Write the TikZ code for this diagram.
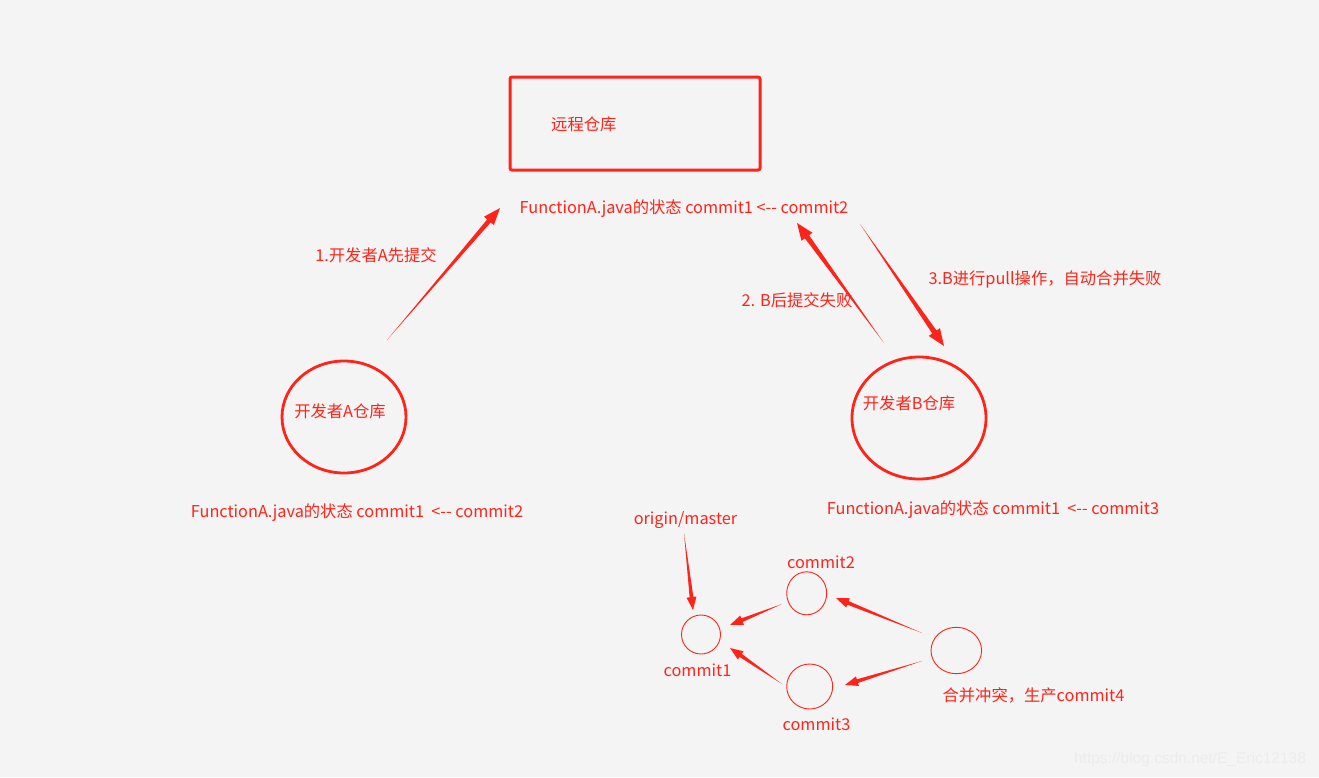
\documentclass[tikz,border=0pt]{standalone}
\usepackage{fontspec}
\setmainfont[Ligatures=NoCommon]{Noto Sans CJK SC}
\usetikzlibrary{calc}
\definecolor{bg}{RGB}{244,244,244}
\definecolor{rd}{RGB}{255,36,26}
\definecolor{wm}{RGB}{236,236,236}
\newcommand{\tarrow}[5]{% start, end, head length, shaft half-width, head half-width
  \coordinate (tb) at ($(#2)!#3!(#1)$);
  \fill[rd] (#1) -- ($(tb)!#4!90:(#2)$) -- ($(tb)!#5!90:(#2)$) -- (#2)
    -- ($(tb)!#5!-90:(#2)$) -- ($(tb)!#4!-90:(#2)$) -- cycle;}
\newcommand{\larr}{<-{}-}
\begin{document}
\begin{tikzpicture}[x=1pt,y=-1pt,
  lbl/.style={text=rd,inner sep=0pt,font=\fontsize{16.3}{19}\selectfont},
  thin/.style={draw=rd,line width=0.9pt}]
\fill[bg] (0,0) rectangle (1319,777);
\useasboundingbox (0,0) rectangle (1319,777);
% remote repo
\draw[rd,line width=3pt,rounded corners=2pt] (510,77) rectangle (760,170);
\node[lbl,anchor=west] (remote) at (551,124) {远程仓库};
\node[lbl] (stateR) at (684,209) {FunctionA.java的状态 commit1 \larr{} commit2};
% developer circles
\draw[rd,line width=2.8pt] (344,417) ellipse [x radius=62, y radius=56];
\node[lbl] (devA) at (340,411) {开发者A仓库};
\draw[rd,line width=2.8pt] (919,418) ellipse [x radius=67, y radius=61];
\node[lbl] (devB) at (909,403) {开发者B仓库};
\node[lbl] (stateA) at (357,513) {FunctionA.java的状态 commit1\ \ \larr{} commit2};
\node[lbl] (stateB) at (993,510) {FunctionA.java的状态 commit1\ \ \larr{} commit3};
% step labels
\node[lbl] (s1) at (376,255) {1.开发者A先提交};
\node[lbl] (s2) at (797,300) {2. B后提交失败};
\node[lbl] (s3) at (1045,279) {3.B进行pull操作，自动合并失败};
% big arrows
\coordinate (a1s) at (387,340); \coordinate (a1e) at (500,208);
\coordinate (a2s) at (884,343); \coordinate (a2e) at (797,223);
\coordinate (a3s) at (860,224); \coordinate (a3e) at (944,346);
\tarrow{a1s}{a1e}{17pt}{2.3pt}{6.5pt}
\tarrow{a2s}{a2e}{17pt}{2.6pt}{6.8pt}
\tarrow{a3s}{a3e}{17pt}{2.6pt}{6.8pt}
% commit graph
\draw[thin] (701,634.5) circle [radius=19.5];
\draw[thin] (806.7,593.3) ellipse [x radius=20, y radius=21.5];
\draw[thin] (809.7,686.5) ellipse [x radius=23, y radius=22.5];
\draw[thin] (956.3,650.5) ellipse [x radius=25.3, y radius=23.2];
\node[lbl] (om) at (685.5,520) {origin/master};
\node[lbl] (c2) at (821,562) {commit2};
\node[lbl] (c1) at (697.5,670) {commit1};
\node[lbl] (c3) at (816.5,724) {commit3};
\node[lbl] (c4) at (1033.5,695) {合并冲突，生产commit4};
\coordinate (b1s) at (684,533); \coordinate (b1e) at (693,610);
\coordinate (b2s) at (782,604); \coordinate (b2e) at (730,625);
\coordinate (b3s) at (782,684); \coordinate (b3e) at (730,648);
\coordinate (b4s) at (922,633); \coordinate (b4e) at (836,598);
\coordinate (b5s) at (922,661); \coordinate (b5e) at (845,685);
\tarrow{b1s}{b1e}{13pt}{1.9pt}{5pt}
\tarrow{b2s}{b2e}{13pt}{1.9pt}{5pt}
\tarrow{b3s}{b3e}{13pt}{1.9pt}{5pt}
\tarrow{b4s}{b4e}{13pt}{1.9pt}{5pt}
\tarrow{b5s}{b5e}{13pt}{1.9pt}{5pt}
% watermark
\node[inner sep=0pt,text=wm,font=\fontspec{Liberation Sans}\fontsize{15.5}{18}\selectfont] (wmk) at (1190,759) {https://blog.csdn.net/E\_Eric12138};
\end{tikzpicture}
\end{document}
